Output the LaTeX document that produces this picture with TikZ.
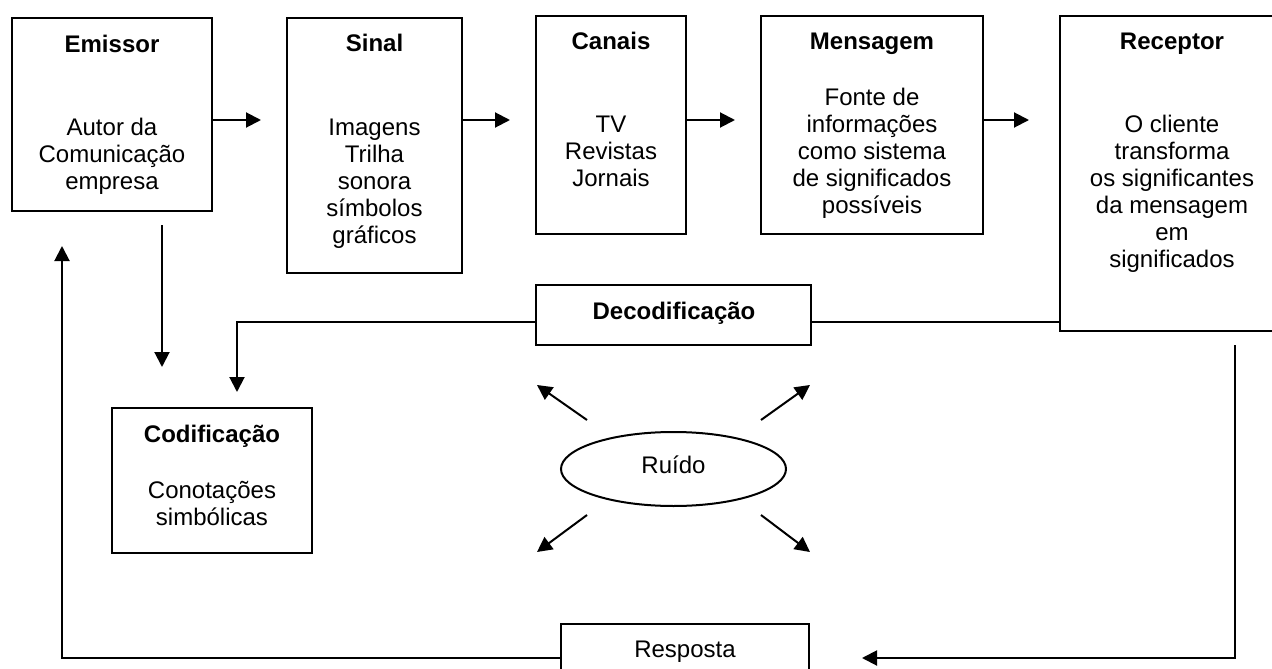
\documentclass[tikz,border=0pt]{standalone}
\usepackage{fontspec}
\setmainfont{Liberation Sans}
\usetikzlibrary{arrows.meta,shapes.geometric,calc}
\begin{document}
\begin{tikzpicture}[x=1pt,y=-1pt,
  every node/.style={font=\fontsize{24}{27}\selectfont},
  box/.style={draw,line width=2pt,rectangle,inner sep=0pt},
  ttl/.style={font=\fontsize{24}{27}\selectfont\bfseries,anchor=base,inner sep=0pt},
  bdy/.style={align=center,anchor=base,inner sep=0pt},
  arr/.style={line width=2pt,-{Triangle[length=15pt,width=15pt]}},
  ln/.style={line width=2pt}]
\useasboundingbox (0,0) rectangle (1272,669);
\clip (0,0) rectangle (1272,669);
% boxes
\node[box,minimum width=200pt,minimum height=193pt] (emi) at (112,114.5) {};
\node[box,minimum width=175pt,minimum height=255pt] (sin) at (374.5,145.5) {};
\node[box,minimum width=150pt,minimum height=218pt] (can) at (611,125) {};
\node[box,minimum width=222pt,minimum height=218pt] (men) at (872,125) {};
\node[box,minimum width=224pt,minimum height=315pt] (rec) at (1172,173.5) {};
\node[box,minimum width=275pt,minimum height=60pt] (dec) at (673.5,315) {};
\node[box,minimum width=200pt,minimum height=145pt] (cod) at (212,480.5) {};
\node[box,minimum width=248pt,minimum height=68pt] (res) at (685,658) {};
\node[draw,line width=2pt,ellipse,minimum width=225pt,minimum height=74pt,inner sep=0pt] (rui) at (673.5,469) {};
% texts (base = baseline of the last line)
\node[ttl] (emiT) at (112,53) {Emissor};
\node[bdy] (emiB) at (112,189) {Autor da\\Comunicação\\empresa};
\node[ttl] (sinT) at (374.5,52) {Sinal};
\node[bdy] (sinB) at (374.5,243) {Imagens\\Trilha\\sonora\\símbolos\\gráficos};
\node[ttl] (canT) at (611,50) {Canais};
\node[bdy] (canB) at (611,186) {TV\\Revistas\\Jornais};
\node[ttl] (menT) at (872,50) {Mensagem};
\node[bdy] (menB) at (872,213) {Fonte de\\informações\\como sistema\\de significados\\possíveis};
\node[ttl] (recT) at (1172,50) {Receptor};
\node[bdy] (recB) at (1172,267) {O cliente\\transforma\\os significantes\\da mensagem\\em\\significados};
\node[ttl] (decT) at (674,319) {Decodificação};
\node[ttl] (codT) at (212,442) {Codificação};
\node[bdy] (codB) at (212,525) {Conotações\\simbólicas};
\node[bdy] (ruiT) at (673.5,473) {Ruído};
\node[bdy] (resT) at (685,657) {Resposta};
% helper coordinates
\coordinate (row) at (0,120);
\coordinate (dline) at (0,321.5);
\coordinate (dx) at (162,0);
\coordinate (cx) at (237,0);
\coordinate (rx) at (1235,0);
\coordinate (bot) at (0,658);
\coordinate (lx) at (62,0);
% top row arrows
\draw[arr,shorten >=25pt] (emi.east |- row) -- (sin.west |- row);
\draw[arr,shorten >=25pt] (sin.east |- row) -- (can.west |- row);
\draw[arr,shorten >=25pt] (can.east |- row) -- (men.west |- row);
\draw[arr,shorten >=30pt] (men.east |- row) -- (rec.west |- row);
% emissor to codificacao
\draw[arr,shorten <=13pt,shorten >=40pt] (emi.south -| dx) -- (cod.north -| dx);
% receptor - decodificacao - codificacao
\draw[ln] (rec.west |- dline) -- (dec.east |- dline);
\draw[arr,shorten >=15pt] (dec.west |- dline) -- (cx |- dline) -- (cod.north -| cx);
% receptor - resposta
\draw[arr,shorten <=13pt,shorten >=52pt] (rec.south -| rx) -- (rx |- bot) -- (res.east |- bot);
% resposta - emissor
\draw[arr,shorten >=34pt] (res.west |- bot) -- (lx |- bot) -- (emi.south -| lx);
% ruido arrows
\coordinate (ul0) at (587,420); \coordinate (ul) at (537,385);
\coordinate (ur0) at (761,420); \coordinate (ur) at (810,385);
\coordinate (ll0) at (587,515); \coordinate (ll) at (537,552);
\coordinate (lr0) at (761,515); \coordinate (lr) at (810,552);
\draw[arr] (ul0) -- (ul);
\draw[arr] (ur0) -- (ur);
\draw[arr] (ll0) -- (ll);
\draw[arr] (lr0) -- (lr);
\end{tikzpicture}
\end{document}
